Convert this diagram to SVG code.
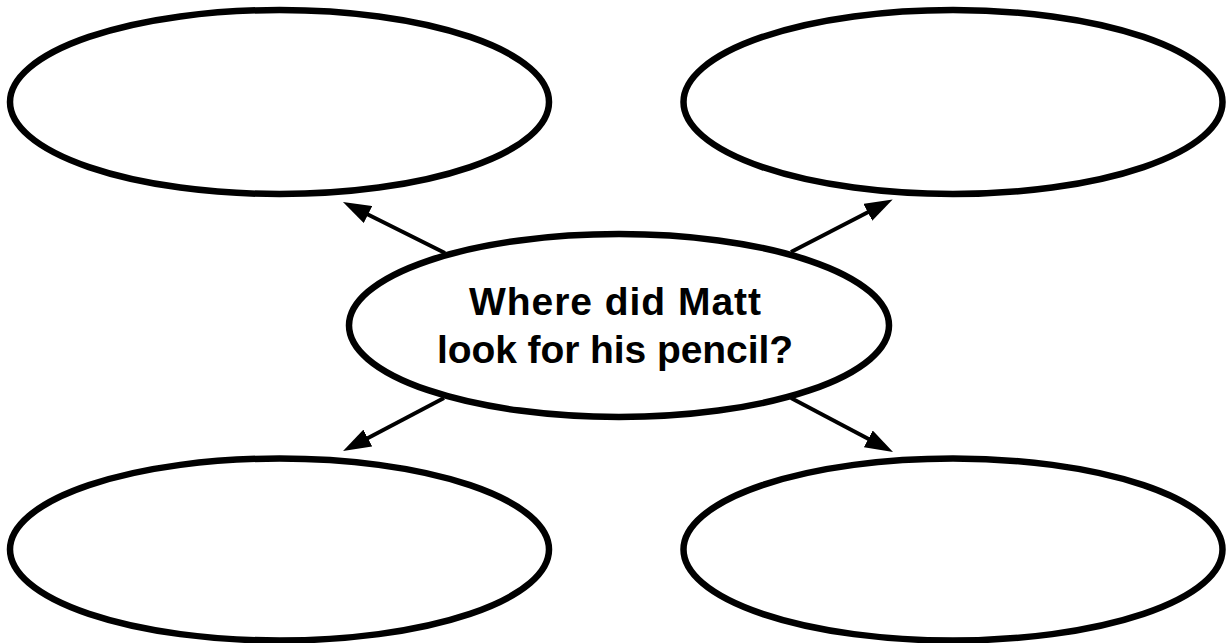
<svg xmlns="http://www.w3.org/2000/svg" width="1228" height="643" viewBox="0 0 1228 643">
  <style>
    .node { fill: #ffffff; stroke: #000000; stroke-width: 6.5; }
    .conn { stroke: #000000; stroke-width: 4; fill: none; marker-end: url(#arrow); }
    .label { font-family: "Liberation Sans", Arial, sans-serif; font-weight: bold; font-size: 39px; fill: #000000; text-anchor: middle; }
  </style>
  <defs>
    <marker id="arrow" viewBox="0 0 28 19" refX="18" refY="9.5" markerWidth="28" markerHeight="19" markerUnits="userSpaceOnUse" orient="auto">
      <path d="M0,0 L28,9.5 L0,19 z" fill="#000000"/>
    </marker>
  </defs>
  <rect x="0" y="0" width="1228" height="643" fill="#ffffff"/>
  <g id="node-top-left">
    <ellipse class="node" cx="279.5" cy="102" rx="269.5" ry="92"/>
  </g>
  <g id="node-top-right">
    <ellipse class="node" cx="953" cy="102" rx="269.5" ry="92"/>
  </g>
  <g id="node-bottom-left">
    <ellipse class="node" cx="279.5" cy="549.5" rx="269.5" ry="91"/>
  </g>
  <g id="node-bottom-right">
    <ellipse class="node" cx="953" cy="549.5" rx="269.5" ry="91"/>
  </g>
  <g id="node-center">
    <ellipse class="node" cx="619" cy="325.5" rx="270" ry="91.5"/>
    <text class="label" x="615" y="315" textLength="292">Where did Matt</text>
    <text class="label" x="615" y="363" textLength="356">look for his pencil?</text>
  </g>
  <g id="connectors">
    <line class="conn" x1="445" y1="253" x2="351.9" y2="206.5"/>
    <line class="conn" x1="791" y1="252" x2="883.8" y2="204"/>
    <line class="conn" x1="444" y1="398" x2="351.9" y2="446.4"/>
    <line class="conn" x1="791" y1="398" x2="884.2" y2="447.3"/>
  </g>
</svg>
